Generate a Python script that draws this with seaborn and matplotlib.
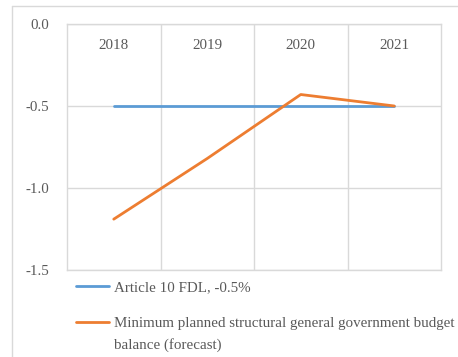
import seaborn as sns
import matplotlib.pyplot as plt
import pandas as pd
from matplotlib.lines import Line2D

years = [2018, 2019, 2020, 2021]
article10 = [-0.5, -0.5, -0.5, -0.5]
min_planned = [-1.19, -0.82, -0.43, -0.5]
label_a = "Article 10 FDL, -0.5%"
label_b1 = "Minimum planned structural general government budget"
label_b2 = "balance (forecast)"
y_ticks = [0.0, -0.5, -1.0, -1.5]

df = pd.DataFrame({
    "year": years * 2,
    "value": article10 + min_planned,
    "series": [label_a] * 4 + [label_b1] * 4,
})

sns.set_style("white")
plt.rcParams["font.family"] = ["Liberation Serif", "DejaVu Serif"]
plt.rcParams["font.size"] = 11
text_col = "#595959"
grid_col = "#D9D9D9"
fs = 10.8

fig = plt.figure(figsize=(4.58, 3.57), dpi=100)
ax = fig.add_axes([0.1463, 0.2437, 0.8166, 0.6891])

sns.lineplot(data=df, x="year", y="value", hue="series",
             palette=["#5B9BD5", "#ED7D31"], linewidth=2, legend=False, ax=ax)

ax.set_xlim(2017.5, 2021.5)
ax.set_ylim(-1.5, 0)
ax.set_xticks(years)
ax.set_xticklabels([str(y) for y in years])
ax.set_xticks([2018.5, 2019.5, 2020.5], minor=True)
ax.set_yticks(y_ticks)
ax.set_yticklabels([f"{v:.1f}" for v in y_ticks])
ax.set_xlabel("")
ax.set_ylabel("")

ax.xaxis.tick_top()
ax.tick_params(axis="x", which="major", length=0, pad=-20, labelcolor=text_col, labelsize=fs)
ax.tick_params(axis="x", which="minor", length=0)
ax.tick_params(axis="y", length=0, pad=13, labelcolor=text_col, labelsize=fs)
ax.grid(False)
ax.xaxis.grid(True, which="minor", color=grid_col, linewidth=1)
ax.yaxis.grid(True, which="major", color=grid_col, linewidth=1)
ax.set_axisbelow(True)
for s in ax.spines.values():
    s.set_visible(True)
    s.set_color(grid_col)
    s.set_linewidth(1)

# outer chart border (partially visible)
fig.add_artist(Line2D([12 / 458, 12 / 458], [0, 1 - 6 / 357],
                      transform=fig.transFigure, color=grid_col, linewidth=1))
fig.add_artist(Line2D([12 / 458, 1], [1 - 6 / 357, 1 - 6 / 357],
                      transform=fig.transFigure, color=grid_col, linewidth=1))

handles = ax.get_lines()[:2]
leg = fig.legend(handles, [label_a, label_b1], loc="upper left",
                 bbox_to_anchor=(76 / 458, 1 - 281 / 357), frameon=False,
                 handlelength=2.2, handletextpad=0.3, labelspacing=1.45,
                 borderpad=0, borderaxespad=0, fontsize=fs, labelcolor=text_col)

fig.canvas.draw()
bb = leg.get_texts()[1].get_window_extent().transformed(fig.transFigure.inverted())
fig.text(bb.x0, bb.y0 - 8 / 357, label_b2, ha="left", va="top",
         fontsize=fs, color=text_col)

fig.savefig("out.png", dpi=100)
